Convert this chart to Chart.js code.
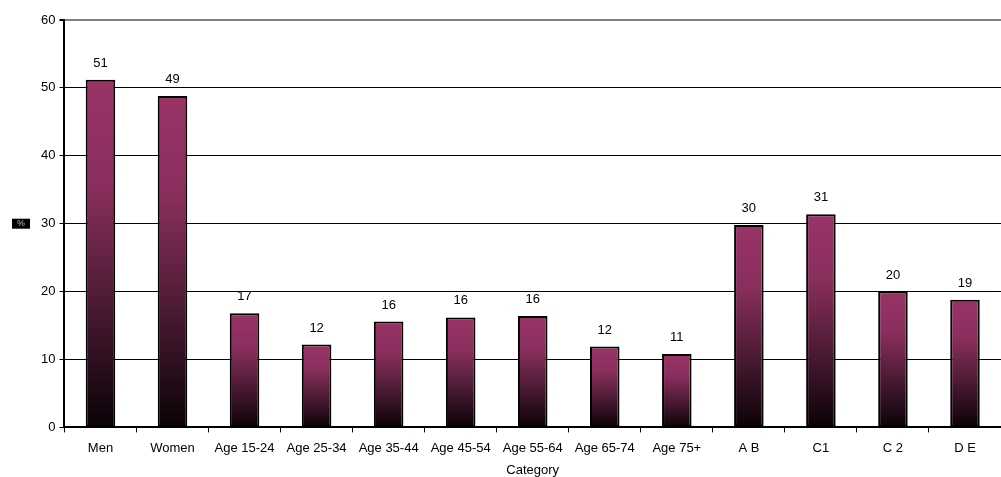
<!DOCTYPE html>
<html>
<head>
<meta charset="utf-8">
<script src="https://cdn.jsdelivr.net/npm/chart.js@4/dist/chart.umd.min.js"></script>
<style>
  html, body { margin: 0; padding: 0; background: #fff; }
  #wrap { width: 1001px; height: 477px; position: relative; }
</style>
</head>
<body>
<div id="wrap"><canvas id="c" width="1001" height="477"></canvas></div>
<script>
// Audience profile by category (%)
const categories = ["Men", "Women", "Age 15-24", "Age 25-34", "Age 35-44", "Age 45-54",
  "Age 55-64", "Age 65-74", "Age 75+", "A B", "C1", "C 2", "D E"];
const shareValues = [51.2, 48.8, 16.8, 12.2, 15.6, 16.2, 16.4, 11.9, 10.8, 29.8, 31.4, 20.0, 18.8];
const yTicks = [0, 10, 20, 30, 40, 50, 60];

const FONT = "'Liberation Sans', Arial, sans-serif";

// Per-bar vertical gradient: plum at the top fading to near-black at the base
function barGradient(ctx) {
  const chart = ctx.chart;
  const ys = chart.scales && chart.scales.y;
  if (!ys || !chart.chartArea || ctx.raw === undefined) return '#993366';
  const top = ys.getPixelForValue(ctx.raw);
  const base = ys.getPixelForValue(0);
  const g = chart.ctx.createLinearGradient(0, top, 0, base);
  g.addColorStop(0, '#993366');
  g.addColorStop(0.3, '#8a2f5d');
  g.addColorStop(0.65, '#4a1a33');
  g.addColorStop(1, '#0a0206');
  return g;
}

// Value labels above each bar
const valueLabels = {
  id: 'valueLabels',
  afterDatasetsDraw(chart) {
    const c = chart.ctx;
    const meta = chart.getDatasetMeta(0);
    c.save();
    c.font = '13px ' + FONT;
    c.fillStyle = '#000';
    c.textAlign = 'center';
    c.textBaseline = 'bottom';
    meta.data.forEach((bar, i) => {
      c.fillText(String(Math.round(shareValues[i])), bar.x, bar.y - 10);
    });
    c.restore();
  }
};

// Small boxed "%" unit marker beside the value axis
const unitMarker = {
  id: 'unitMarker',
  afterDraw(chart) {
    const c = chart.ctx;
    const ys = chart.scales.y;
    const cy = ys.getPixelForValue(30);
    c.save();
    c.fillStyle = '#000';
    c.fillRect(12, cy - 5, 18, 10);
    c.font = 'bold 9px ' + FONT;
    c.fillStyle = '#888';
    c.textAlign = 'center';
    c.textBaseline = 'middle';
    c.fillText('%', 21, cy);
    c.restore();
  }
};

new Chart(document.getElementById('c'), {
  type: 'bar',
  data: {
    labels: categories,
    datasets: [{
      data: shareValues,
      backgroundColor: barGradient,
      borderColor: '#000',
      borderWidth: 2,
      borderSkipped: false,
      categoryPercentage: 1,
      barPercentage: 0.41
    }]
  },
  options: {
    responsive: false,
    animation: false,
    devicePixelRatio: 1,
    layout: { padding: { left: 37, right: 0, top: 20, bottom: 0 } },
    plugins: {
      legend: { display: false },
      tooltip: { enabled: false }
    },
    scales: {
      x: {
        grid: {
          offset: true,
          drawOnChartArea: false,
          drawTicks: true,
          tickLength: 5,
          color: '#000',
          lineWidth: 1
        },
        border: { color: '#000', width: 2 },
        ticks: {
          color: '#000',
          font: { family: FONT, size: 13 },
          maxRotation: 0,
          autoSkip: false,
          padding: 8
        },
        title: {
          display: true,
          text: 'Category',
          color: '#000',
          font: { family: FONT, size: 13, lineHeight: 1 },
          padding: { top: 0, bottom: 0 }
        }
      },
      y: {
        min: 0,
        max: 60,
        afterBuildTicks(scale) { scale.ticks = yTicks.map(v => ({ value: v })); },
        grid: {
          color: (ctx) => (ctx.tick && ctx.tick.value === 60 ? '#808080' : '#000'),
          lineWidth: (ctx) => (ctx.tick && ctx.tick.value === 60 ? 2 : 1),
          tickLength: 5,
          tickColor: '#000'
        },
        border: { color: '#000', width: 2 },
        ticks: {
          color: '#000',
          font: { family: FONT, size: 13 },
          padding: 4
        }
      }
    }
  },
  plugins: [valueLabels, unitMarker]
});
</script>
</body>
</html>
